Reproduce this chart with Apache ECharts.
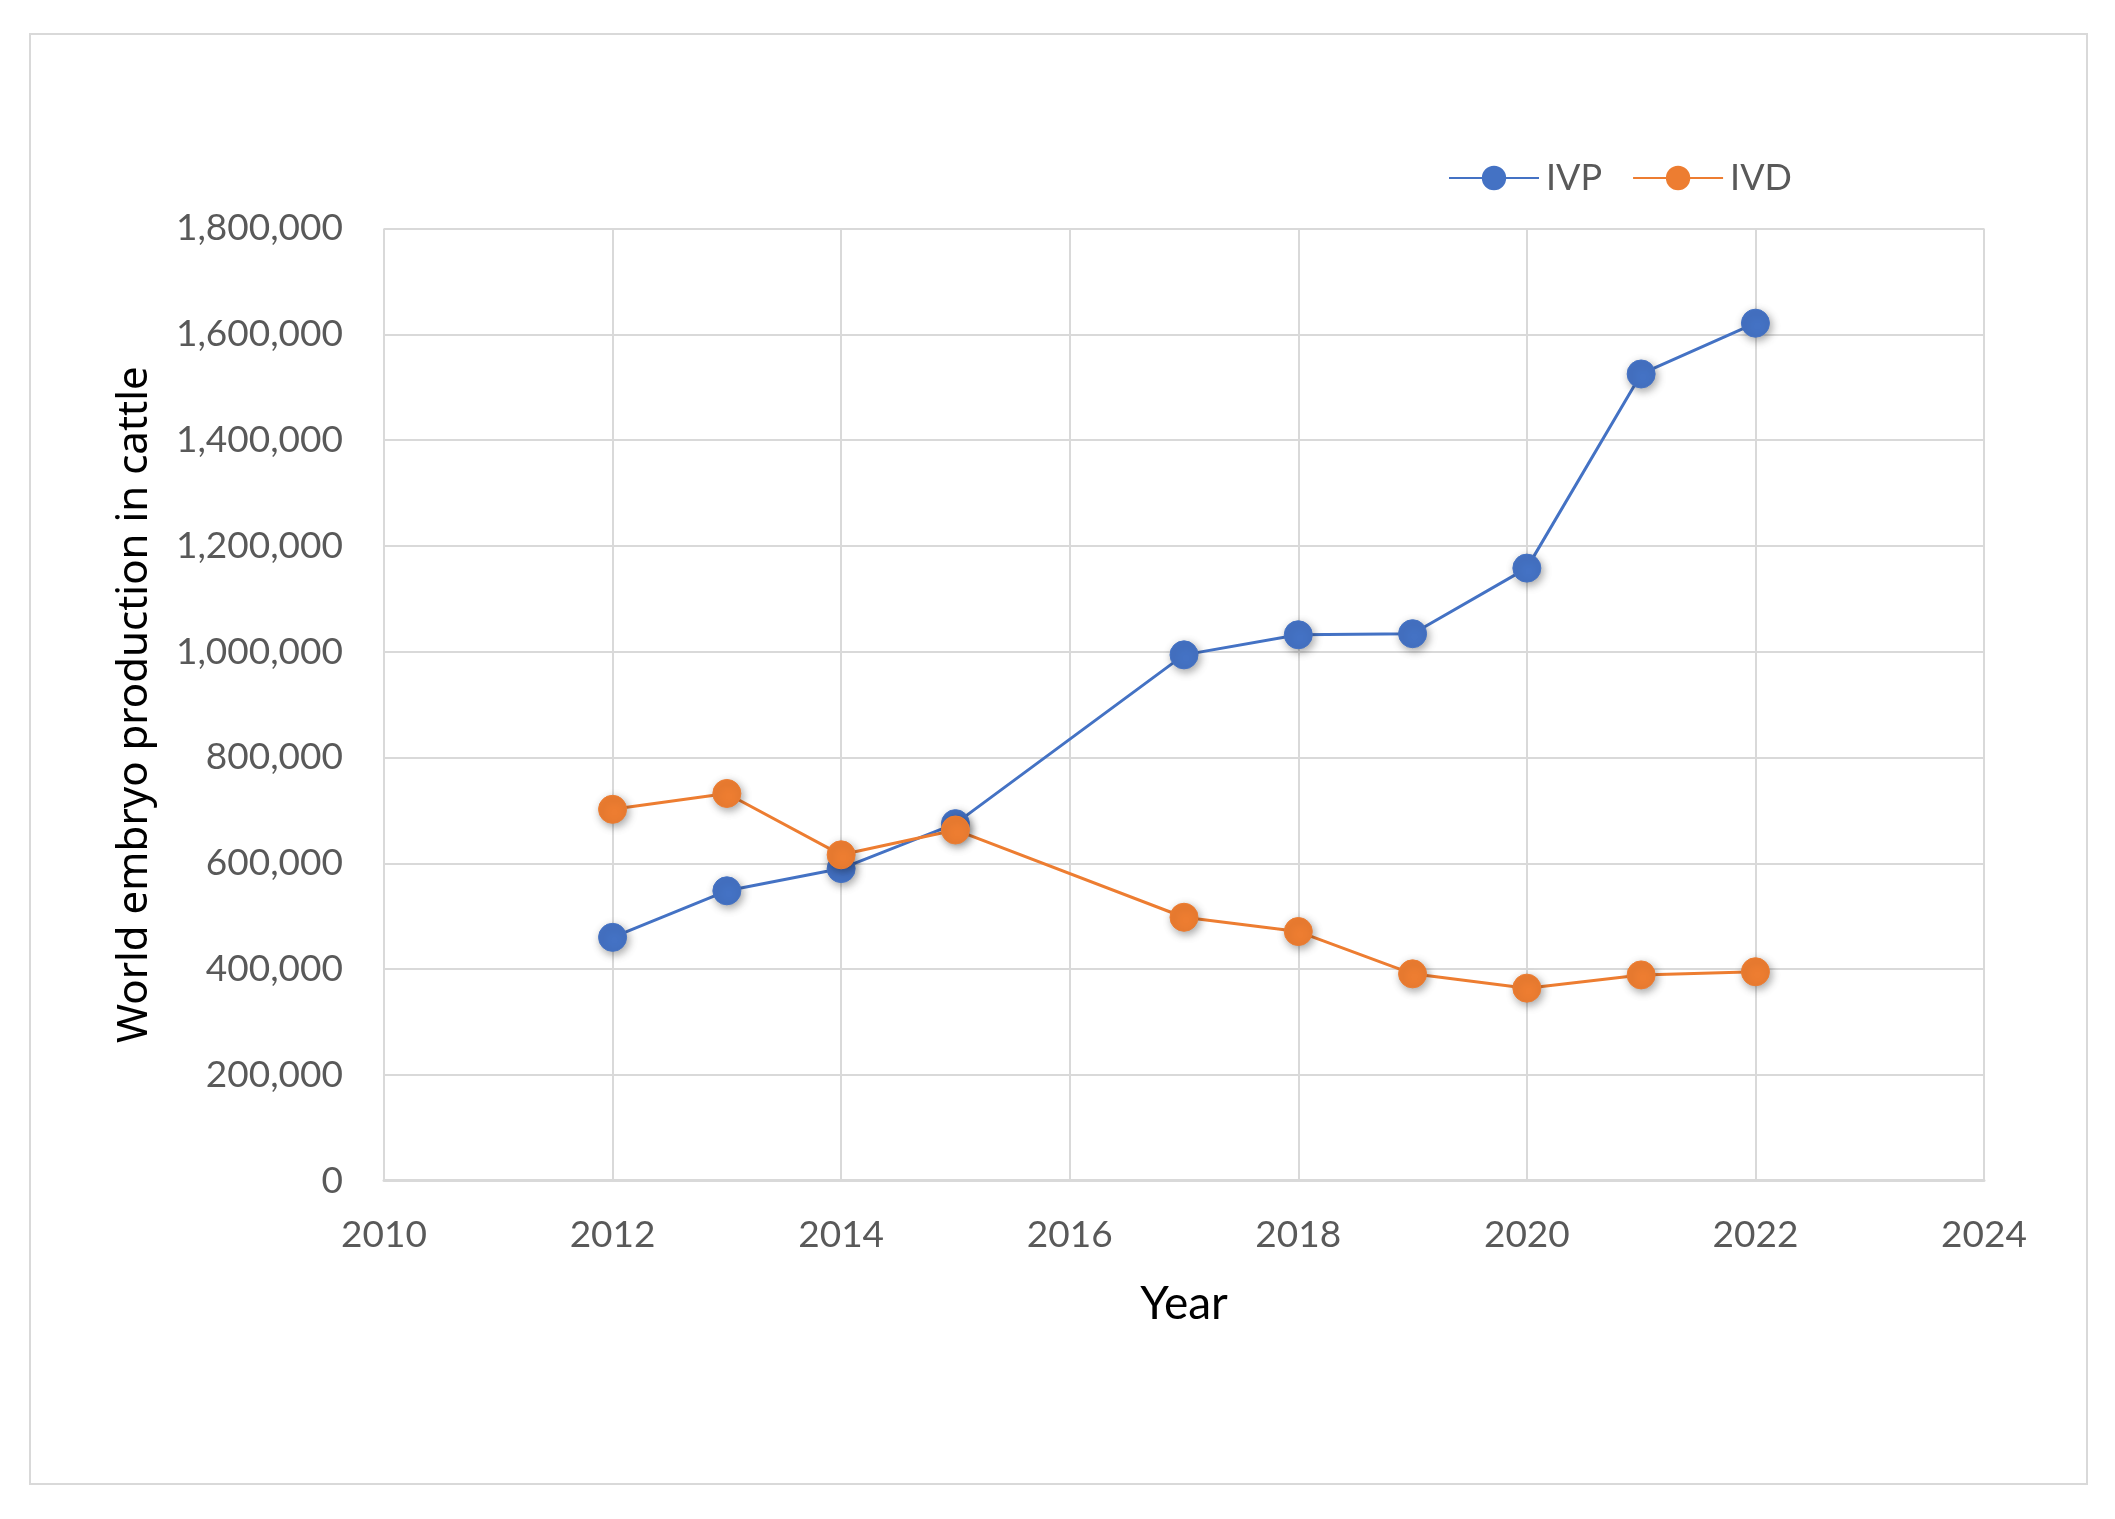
<!DOCTYPE html>
<html>
<head>
<meta charset="utf-8">
<script src="https://cdn.jsdelivr.net/npm/echarts@6/dist/echarts.min.js"></script>
<style>
html,body{margin:0;padding:0;background:#fff;}
#c{width:2115px;height:1519px;}
</style>
</head>
<body>
<div id="c"></div>
<script>
const years = [2012, 2013, 2014, 2015, 2017, 2018, 2019, 2020, 2021, 2022];
const ivp = [460000, 548000, 590000, 675000, 994000, 1032000, 1034000, 1158000, 1525000, 1621000];
const ivd = [702000, 732000, 616000, 663000, 498000, 471000, 391000, 364000, 389000, 395000];
const seriesNames = ['IVP', 'IVD'];
const xAxisTitle = 'Year';
const yAxisTitle = 'World embryo production in cattle';

const pair = (vals) => years.map((y, i) => [y, vals[i]]);
const tickFont = 'Lato, "Open Sans", sans-serif';

const chart = echarts.init(document.getElementById('c'), null, {renderer: 'canvas'});
const mk = (name, color, vals) => ({
  name: name,
  type: 'line',
  data: pair(vals),
  symbol: 'circle',
  symbolSize: 28,
  lineStyle: {color: color, width: 3},
  itemStyle: {
    color: color,
    borderColor: color,
    borderWidth: 1,
    shadowBlur: 8,
    shadowColor: 'rgba(0,0,0,0.35)',
    shadowOffsetX: 2,
    shadowOffsetY: 3
  },
  emphasis: {disabled: true},
  animation: false
});

chart.setOption({
  backgroundColor: '#ffffff',
  animation: false,
  graphic: [{
    type: 'rect',
    shape: {x: 30, y: 34, width: 2057, height: 1450},
    style: {fill: 'none', stroke: '#d9d9d9', lineWidth: 2},
    silent: true
  }],
  legend: {
    data: seriesNames,
    left: 1443,
    top: 155,
    itemWidth: 90,
    itemHeight: 28,
    itemGap: 30,
    textStyle: {fontFamily: tickFont, fontSize: 36, color: '#595959', padding: [0, 0, 0, 2]}
  },
  grid: {left: 384, right: 131, top: 228.5, bottom: 338.3, containLabel: false},
  xAxis: {
    type: 'value',
    min: 2010,
    max: 2024,
    interval: 2,
    name: xAxisTitle,
    nameLocation: 'middle',
    nameGap: 100,
    nameTextStyle: {fontFamily: tickFont, fontSize: 46, color: '#000000'},
    axisLine: {show: true, onZero: false, lineStyle: {color: '#d9d9d9', width: 3}},
    axisTick: {show: false},
    axisLabel: {
      fontFamily: tickFont, fontSize: 37, color: '#595959', margin: 36,
      formatter: (v) => String(v)
    },
    splitLine: {show: true, lineStyle: {color: '#d9d9d9', width: 2}}
  },
  yAxis: {
    type: 'value',
    min: 0,
    max: 1800000,
    interval: 200000,
    name: yAxisTitle,
    nameLocation: 'middle',
    nameGap: 228,
    nameTextStyle: {fontFamily: '"Noto Sans", Lato, sans-serif', fontSize: 42, color: '#000000'},
    axisLine: {show: false},
    axisTick: {show: false},
    axisLabel: {
      fontFamily: tickFont, fontSize: 37, color: '#595959', margin: 41,
      formatter: (v) => v.toLocaleString('en-US')
    },
    splitLine: {show: true, lineStyle: {color: '#d9d9d9', width: 2}}
  },
  series: [
    mk(seriesNames[0], '#4472C4', ivp),
    mk(seriesNames[1], '#ED7D31', ivd)
  ]
});
</script>
</body>
</html>
